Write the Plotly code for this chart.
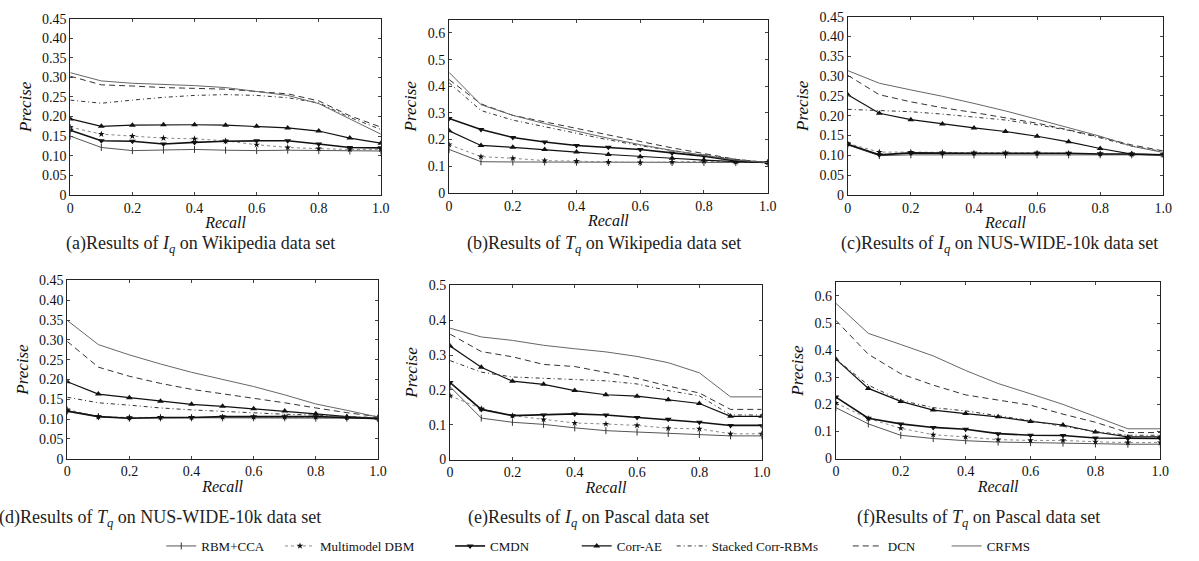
import plotly.graph_objects as go

recall = [0, 0.1, 0.2, 0.3, 0.4, 0.5, 0.6, 0.7, 0.8, 0.9, 1.0]
methods = ["RBM+CCA", "Multimodel DBM", "CMDN", "Corr-AE", "Stacked Corr-RBMs", "DCN", "CRFMS"]

# (a) I_q on Wikipedia
a_rbm = [0.150, 0.121, 0.113, 0.114, 0.116, 0.114, 0.113, 0.114, 0.113, 0.112, 0.112]
a_dbm = [0.173, 0.155, 0.150, 0.145, 0.143, 0.138, 0.128, 0.121, 0.118, 0.116, 0.116]
a_cmdn = [0.165, 0.138, 0.137, 0.130, 0.134, 0.137, 0.138, 0.138, 0.130, 0.121, 0.120]
a_corr = [0.194, 0.175, 0.178, 0.179, 0.179, 0.178, 0.175, 0.171, 0.163, 0.145, 0.132]
a_stk = [0.242, 0.234, 0.242, 0.249, 0.254, 0.256, 0.254, 0.248, 0.235, 0.198, 0.167]
a_dcn = [0.303, 0.281, 0.278, 0.274, 0.272, 0.270, 0.264, 0.258, 0.240, 0.202, 0.173]
a_crf = [0.312, 0.291, 0.285, 0.282, 0.279, 0.274, 0.264, 0.254, 0.233, 0.194, 0.155]

# (b) T_q on Wikipedia
b_rbm = [0.163, 0.117, 0.116, 0.116, 0.115, 0.114, 0.114, 0.114, 0.114, 0.114, 0.114]
b_dbm = [0.181, 0.136, 0.130, 0.121, 0.119, 0.116, 0.114, 0.116, 0.119, 0.116, 0.114]
b_cmdn = [0.279, 0.238, 0.208, 0.191, 0.178, 0.171, 0.163, 0.150, 0.138, 0.120, 0.114]
b_corr = [0.233, 0.178, 0.171, 0.163, 0.153, 0.144, 0.136, 0.130, 0.123, 0.117, 0.114]
b_stk = [0.413, 0.309, 0.273, 0.248, 0.224, 0.199, 0.177, 0.159, 0.141, 0.126, 0.114]
b_dcn = [0.425, 0.334, 0.291, 0.266, 0.242, 0.218, 0.193, 0.169, 0.147, 0.126, 0.114]
b_crf = [0.452, 0.331, 0.291, 0.260, 0.232, 0.205, 0.181, 0.159, 0.141, 0.123, 0.114]

# (c) I_q on NUS-WIDE-10k
c_rbm = [0.126, 0.099, 0.101, 0.101, 0.101, 0.101, 0.101, 0.101, 0.101, 0.101, 0.101]
c_dbm = [0.130, 0.108, 0.108, 0.107, 0.106, 0.106, 0.106, 0.105, 0.104, 0.103, 0.101]
c_cmdn = [0.128, 0.101, 0.106, 0.105, 0.105, 0.105, 0.105, 0.105, 0.103, 0.103, 0.101]
c_corr = [0.253, 0.206, 0.190, 0.179, 0.169, 0.160, 0.148, 0.134, 0.117, 0.103, 0.101]
c_stk = [0.216, 0.213, 0.210, 0.204, 0.197, 0.189, 0.177, 0.163, 0.144, 0.123, 0.109]
c_dcn = [0.302, 0.253, 0.235, 0.220, 0.208, 0.194, 0.181, 0.164, 0.146, 0.126, 0.111]
c_crf = [0.314, 0.282, 0.265, 0.249, 0.231, 0.212, 0.191, 0.169, 0.148, 0.123, 0.107]

# (d) T_q on NUS-WIDE-10k
d_rbm = [0.120, 0.106, 0.102, 0.103, 0.103, 0.103, 0.103, 0.103, 0.102, 0.102, 0.101]
d_dbm = [0.124, 0.106, 0.104, 0.104, 0.104, 0.105, 0.105, 0.105, 0.105, 0.104, 0.103]
d_cmdn = [0.120, 0.106, 0.102, 0.104, 0.104, 0.106, 0.106, 0.106, 0.106, 0.104, 0.101]
d_corr = [0.194, 0.163, 0.154, 0.145, 0.137, 0.132, 0.126, 0.120, 0.113, 0.106, 0.102]
d_stk = [0.155, 0.141, 0.135, 0.128, 0.123, 0.119, 0.115, 0.112, 0.110, 0.106, 0.104]
d_dcn = [0.296, 0.231, 0.208, 0.190, 0.175, 0.164, 0.153, 0.141, 0.128, 0.116, 0.106]
d_crf = [0.349, 0.288, 0.262, 0.239, 0.218, 0.200, 0.182, 0.161, 0.138, 0.122, 0.105]

# (e) I_q on Pascal
e_rbm = [0.209, 0.119, 0.107, 0.101, 0.091, 0.083, 0.079, 0.075, 0.072, 0.068, 0.068]
e_dbm = [0.183, 0.146, 0.126, 0.115, 0.105, 0.102, 0.098, 0.090, 0.088, 0.074, 0.074]
e_cmdn = [0.221, 0.144, 0.126, 0.128, 0.131, 0.128, 0.121, 0.116, 0.107, 0.098, 0.098]
e_corr = [0.326, 0.265, 0.225, 0.216, 0.198, 0.186, 0.182, 0.172, 0.161, 0.124, 0.124]
e_stk = [0.284, 0.251, 0.237, 0.233, 0.230, 0.226, 0.217, 0.198, 0.183, 0.128, 0.128]
e_dcn = [0.360, 0.310, 0.295, 0.273, 0.267, 0.251, 0.233, 0.211, 0.191, 0.144, 0.144]
e_crf = [0.377, 0.352, 0.342, 0.328, 0.318, 0.309, 0.296, 0.278, 0.249, 0.180, 0.180]

# (f) T_q on Pascal
f_rbm = [0.188, 0.128, 0.086, 0.074, 0.066, 0.061, 0.059, 0.057, 0.054, 0.053, 0.053]
f_dbm = [0.205, 0.148, 0.112, 0.088, 0.080, 0.070, 0.067, 0.067, 0.062, 0.059, 0.059]
f_cmdn = [0.227, 0.149, 0.128, 0.115, 0.108, 0.092, 0.086, 0.085, 0.076, 0.074, 0.074]
f_corr = [0.367, 0.259, 0.211, 0.179, 0.166, 0.154, 0.137, 0.124, 0.098, 0.080, 0.080]
f_stk = [0.367, 0.271, 0.215, 0.188, 0.176, 0.158, 0.140, 0.119, 0.100, 0.086, 0.086]
f_dcn = [0.510, 0.385, 0.313, 0.271, 0.235, 0.215, 0.197, 0.164, 0.134, 0.096, 0.096]
f_crf = [0.573, 0.462, 0.421, 0.379, 0.325, 0.277, 0.239, 0.200, 0.155, 0.110, 0.110]

panels = [
    [a_rbm, a_dbm, a_cmdn, a_corr, a_stk, a_dcn, a_crf],
    [b_rbm, b_dbm, b_cmdn, b_corr, b_stk, b_dcn, b_crf],
    [c_rbm, c_dbm, c_cmdn, c_corr, c_stk, c_dcn, c_crf],
    [d_rbm, d_dbm, d_cmdn, d_corr, d_stk, d_dcn, d_crf],
    [e_rbm, e_dbm, e_cmdn, e_corr, e_stk, e_dcn, e_crf],
    [f_rbm, f_dbm, f_cmdn, f_corr, f_stk, f_dcn, f_crf],
]

captions = [
    "(a)Results of <i>I</i><sub><i>q</i></sub> on Wikipedia data set",
    "(b)Results of <i>T</i><sub><i>q</i></sub> on Wikipedia data set",
    "(c)Results of <i>I</i><sub><i>q</i></sub> on NUS-WIDE-10k data set",
    "(d)Results of <i>T</i><sub><i>q</i></sub> on NUS-WIDE-10k data set",
    "(e)Results of <i>I</i><sub><i>q</i></sub> on Pascal data set",
    "(f)Results of <i>T</i><sub><i>q</i></sub> on Pascal data set",
]

x_ticks = [0, 0.2, 0.4, 0.6, 0.8, 1.0]
x_ticktext = ["0", "0.2", "0.4", "0.6", "0.8", "1.0"]
y_ticks_045 = [0, 0.05, 0.10, 0.15, 0.20, 0.25, 0.30, 0.35, 0.40, 0.45]
y_text_045 = ["0", "0.05", "0.10", "0.15", "0.20", "0.25", "0.30", "0.35", "0.40", "0.45"]
y_ticks_06 = [0, 0.1, 0.2, 0.3, 0.4, 0.5, 0.6]
y_text_06 = ["0", "0.1", "0.2", "0.3", "0.4", "0.5", "0.6"]
y_ticks_05 = [0, 0.1, 0.2, 0.3, 0.4, 0.5]
y_text_05 = ["0", "0.1", "0.2", "0.3", "0.4", "0.5"]

W, H = 1199, 561
# plot-area pixel boxes (left, right, top, bottom)
boxes = [
    (67, 381, 12, 193),
    (450, 772, 13, 191),
    (853, 1172, 10, 193),
    (64, 378, 281, 464),
    (451, 766, 286, 465),
    (841, 1169, 283, 464),
]
yranges = [(0, 0.45), (0, 0.65), (0, 0.45), (0, 0.45), (0, 0.5), (0, 0.65)]
yticks = [(y_ticks_045, y_text_045), (y_ticks_06, y_text_06), (y_ticks_045, y_text_045),
          (y_ticks_045, y_text_045), (y_ticks_05, y_text_05), (y_ticks_06, y_text_06)]
cap_pos = [(199, 244), (607, 244), (1006, 244), (158, 526), (591, 526), (985, 526)]

styles = [
    dict(line=dict(color="#555555", width=1), marker=dict(symbol="line-ns-open", size=5, color="#333333", line=dict(width=1, color="#333333")), mode="lines+markers"),
    dict(line=dict(color="#888888", width=1, dash="dot"), marker=dict(symbol="star", size=5, color="#111111"), mode="lines+markers"),
    dict(line=dict(color="#111111", width=1.6), marker=dict(symbol="triangle-down", size=6, color="#111111"), mode="lines+markers"),
    dict(line=dict(color="#111111", width=1.2), marker=dict(symbol="triangle-up", size=6, color="#111111"), mode="lines+markers"),
    dict(line=dict(color="#333333", width=1, dash="4px,3px,1px,3px"), mode="lines"),
    dict(line=dict(color="#333333", width=1, dash="6px,4px"), mode="lines"),
    dict(line=dict(color="#666666", width=1), mode="lines"),
]

FONT = "Liberation Serif"
fig = go.Figure()
legend_x = [159, 279, 451, 579, 675, 853, 953]

for p, series in enumerate(panels):
    xa = "x" if p == 0 else f"x{p+1}"
    ya = "y" if p == 0 else f"y{p+1}"
    for k, vals in enumerate(series):
        kw = dict(styles[k])
        tr = go.Scatter(x=recall, y=vals, name=methods[k], xaxis=xa, yaxis=ya,
                        showlegend=(p == 0), legend=("legend" if k == 0 else f"legend{k+1}"), **kw)
        fig.add_trace(tr)

layout = dict(width=W, height=H, margin=dict(l=0, r=0, t=0, b=0),
              paper_bgcolor="white", plot_bgcolor="white",
              font=dict(family=FONT, size=13, color="#111111"))

for p in range(6):
    l, r, t, b = boxes[p]
    sfx = "" if p == 0 else str(p + 1)
    layout["xaxis" + sfx] = dict(
        domain=[l / W, r / W], anchor="y" + sfx, range=[0, 1.0],
        tickvals=x_ticks, ticktext=x_ticktext, ticks="inside", ticklen=3,
        showline=True, linecolor="#222222", linewidth=1, mirror="ticks",
        showgrid=False, zeroline=False, tickfont=dict(size=14, family=FONT),
        title=dict(text="<i>Recall</i>", font=dict(size=16, family=FONT), standoff=2),
    )
    layout["yaxis" + sfx] = dict(
        domain=[1 - b / H, 1 - t / H], anchor="x" + sfx, range=list(yranges[p]),
        tickvals=yticks[p][0], ticktext=yticks[p][1], ticks="inside", ticklen=3,
        showline=True, linecolor="#222222", linewidth=1, mirror="ticks",
        showgrid=False, zeroline=False, tickfont=dict(size=14, family=FONT),
        title=dict(text="<i>Precise</i>", font=dict(size=17, family=FONT), standoff=6),
    )

for k in range(7):
    key = "legend" if k == 0 else f"legend{k+1}"
    layout[key] = dict(x=legend_x[k] / W, y=1 - 554 / H, xanchor="left", yanchor="middle",
                       orientation="h", bgcolor="rgba(0,0,0,0)", borderwidth=0,
                       font=dict(size=13, family=FONT), itemwidth=30)

fig.update_layout(**layout)

for p in range(6):
    cx, cy = cap_pos[p]
    fig.add_annotation(text=captions[p], x=cx / W, y=1 - cy / H, xref="paper", yref="paper",
                       showarrow=False, xanchor="center", yanchor="middle",
                       font=dict(size=18, family=FONT, color="#222222"))

fig.write_html("out.html", config={"displayModeBar": False},
               post_script="document.body.style.margin='0';")
